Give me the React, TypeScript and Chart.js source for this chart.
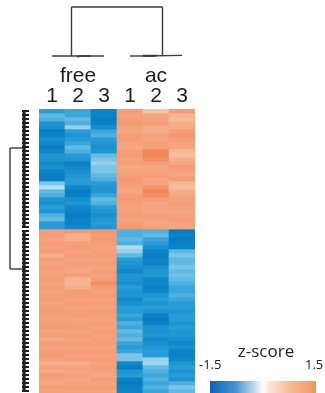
import React, { useEffect, useRef } from "react";
import { Chart, registerables } from "chart.js";

Chart.register(...registerables);

// column labels
const groupLabels = ["free", "ac"];
const sampleLabels = ["1", "2", "3", "1", "2", "3"];
const legendTitle = "z-score";
const legendMin = -1.5;
const legendMax = 1.5;

// z-scores per column; rows 0-29 = upper gene cluster, rows 30-70 = lower cluster
const free1 = [
  -0.9, -0.6, -0.7, -1.0, -1.1, -1.4, -1.3, -1.1, -1.2, -1.4, -1.2, -1.0, -1.0, -1.2, -1.1, -1.3, -1.4, -1.35, -0.5, -0.25, -0.6, -0.7, -1.0, -1.1, -0.9, -1.0, -0.7, -0.6, -0.9, -0.9,
  0.9, 0.9, 0.85, 0.9, 0.85, 0.9, 0.7, 0.9, 0.85, 0.9, 0.85, 0.9, 0.9, 0.85, 0.9, 0.85, 0.9, 0.9, 0.85, 0.9, 0.95, 0.9, 0.85, 0.9, 0.95, 0.85, 0.9, 0.75, 0.9, 0.85, 0.9, 0.95, 0.85, 0.7, 0.85, 0.75, 0.9, 0.85, 0.8, 0.9, 0.85,
];
const free2 = [
  -0.8, -0.8, -0.6, -0.7, -0.4, -0.9, -1.0, -0.9, -0.8, -0.6, -0.7, -0.9, -1.0, -1.3, -1.2, -1.1, -1.0, -0.9, -0.9, -1.2, -1.4, -1.3, -1.1, -1.0, -1.2, -1.3, -1.4, -1.3, -1.3, -1.2,
  0.95, 0.7, 0.7, 0.85, 0.9, 0.85, 0.9, 0.85, 0.9, 0.85, 0.8, 0.9, 0.65, 0.65, 0.7, 0.9, 0.9, 0.85, 0.9, 0.85, 0.9, 0.9, 0.85, 0.9, 0.9, 0.85, 0.9, 0.85, 0.9, 0.85, 0.9, 0.85, 0.9, 0.75, 0.85, 0.8, 0.85, 0.8, 0.85, 0.9, 0.85,
];
const free3 = [
  -1.3, -1.3, -1.4, -1.35, -1.1, -0.8, -0.7, -0.9, -1.0, -1.1, -1.0, -0.6, -0.5, -0.4, -0.5, -0.5, -0.6, -0.7, -0.9, -1.0, -1.0, -0.8, -0.6, -0.7, -0.9, -1.0, -1.1, -1.0, -0.9, -1.0,
  1.0, 0.9, 0.95, 0.9, 0.85, 0.9, 0.9, 0.85, 0.9, 0.85, 0.9, 0.85, 0.9, 1.1, 0.9, 0.85, 0.9, 0.85, 0.9, 0.85, 0.95, 0.9, 0.85, 0.9, 0.85, 0.9, 0.85, 0.9, 0.9, 0.85, 0.9, 0.85, 0.9, 0.85, 0.9, 0.85, 0.8, 0.9, 0.85, 0.9, 0.85,
];
const ac1 = [
  0.9, 0.85, 0.9, 0.95, 0.85, 0.8, 0.9, 0.9, 0.85, 0.8, 0.9, 0.9, 0.85, 0.9, 0.8, 0.85, 0.9, 0.95, 0.9, 0.85, 0.8, 0.9, 0.95, 0.9, 0.85, 0.9, 0.9, 0.85, 0.9, 0.95,
  -0.7, -0.7, -0.6, -0.7, -0.3, -0.4, -0.6, -0.9, -1.0, -1.1, -1.2, -1.0, -1.0, -1.1, -0.9, -1.0, -1.0, -1.2, -1.1, -0.9, -0.9, -0.8, -0.9, -0.7, -0.8, -0.6, -0.7, -0.6, -0.8, -0.9, -0.8, -0.5, -0.5, -1.2, -1.4, -1.0, -0.9, -1.3, -1.4, -1.35, -1.3,
];
const ac2 = [
  0.5, 0.8, 0.85, 0.9, 0.75, 0.7, 0.85, 0.8, 0.9, 0.85, 1.2, 1.25, 1.1, 0.9, 0.8, 0.85, 0.9, 0.8, 0.85, 1.0, 1.2, 1.1, 0.9, 0.8, 0.85, 0.8, 0.9, 0.85, 0.8, 0.85,
  -0.7, -0.6, -0.8, -0.9, -1.1, -1.3, -1.4, -1.3, -1.3, -1.1, -1.0, -1.0, -1.2, -1.2, -1.3, -1.2, -1.0, -0.9, -1.0, -0.9, -1.0, -1.3, -1.4, -1.3, -1.0, -1.1, -1.0, -1.2, -1.1, -1.0, -0.9, -0.9, -0.4, -0.35, -0.6, -0.7, -0.8, -0.7, -0.8, -0.7, -0.8,
];
const ac3 = [
  0.9, 0.65, 0.6, 0.7, 0.75, 0.9, 1.0, 0.9, 0.85, 0.8, 0.6, 0.55, 0.7, 0.8, 0.9, 0.85, 0.8, 0.9, 0.6, 0.55, 0.7, 0.8, 0.85, 0.9, 0.85, 0.8, 0.85, 0.9, 0.85, 0.8,
  -1.4, -1.3, -1.4, -1.35, -1.3, -0.6, -0.5, -0.6, -0.6, -0.5, -0.6, -0.55, -0.6, -0.7, -0.8, -0.8, -0.7, -0.8, -0.9, -0.9, -1.0, -0.9, -0.9, -1.0, -0.9, -1.0, -1.0, -1.1, -1.2, -1.1, -1.3, -1.3, -1.2, -1.0, -0.9, -1.0, -0.9, -1.0, -0.7, -0.5, -0.6,
];

// row dendrogram: cluster sizes and join rows (in row units)
const rowClusterSizes = [30, 41];
const rowJoinRows = [9.75, 40];

const columns = [free1, free2, free3, ac1, ac2, ac3];
const nRows = free1.length;

const colorStops: [number, number[]][] = [
  [-1.5, [4, 120, 192]],
  [-1.2, [16, 136, 202]],
  [-0.9, [40, 156, 214]],
  [-0.6, [98, 186, 227]],
  [-0.3, [176, 219, 238]],
  [0, [255, 255, 255]],
  [0.3, [250, 218, 196]],
  [0.6, [247, 184, 150]],
  [0.9, [244, 158, 120]],
  [1.2, [241, 136, 92]],
  [1.5, [238, 122, 72]],
];

const legendStops: [number, number[]][] = [
  [0, [10, 100, 178]],
  [0.25, [70, 150, 210]],
  [0.45, [215, 232, 242]],
  [0.5, [255, 255, 255]],
  [0.55, [252, 232, 218]],
  [0.75, [247, 190, 150]],
  [1, [242, 148, 92]],
];

function zColor(z: number): string {
  const v = Math.max(-1.5, Math.min(1.5, z));
  for (let i = 0; i < colorStops.length - 1; i++) {
    const [z0, c0] = colorStops[i];
    const [z1, c1] = colorStops[i + 1];
    if (v >= z0 && v <= z1) {
      const t = (v - z0) / (z1 - z0);
      const c = c0.map((a, k) => Math.round(a + (c1[k] - a) * t));
      return `rgb(${c[0]},${c[1]},${c[2]})`;
    }
  }
  return "rgb(255,255,255)";
}

const overlay = {
  id: "overlay",
  afterDraw(chart: any) {
    const ctx = chart.ctx as CanvasRenderingContext2D;
    const xs = chart.scales.x;
    const ys = chart.scales.y;
    const cx = (i: number) => xs.getPixelForValue(i);
    const top = chart.chartArea.top;
    ctx.save();
    // column labels
    ctx.fillStyle = "#1c1c1c";
    ctx.textAlign = "center";
    ctx.textBaseline = "alphabetic";
    ctx.font = '21px "Liberation Sans", Arial, sans-serif';
    ctx.fillText(groupLabels[0], cx(1), top - 27);
    ctx.fillText(groupLabels[1], cx(4), top - 27);
    sampleLabels.forEach((s, i) => ctx.fillText(s, cx(i), top - 7));

    // column dendrogram
    ctx.strokeStyle = "#3a3a3a";
    ctx.lineWidth = 1.4;
    const leafY = top - 53;
    const rootY = top - 102;
    const seg = (x1: number, y1: number, x2: number, y2: number) => {
      ctx.beginPath();
      ctx.moveTo(x1, y1);
      ctx.lineTo(x2, y2);
      ctx.stroke();
    };
    // free: (2,3) then 1
    const f23 = (cx(1) + cx(2)) / 2;
    seg(cx(1), leafY, cx(2), leafY);
    seg(cx(1), leafY + 1.5, cx(1), leafY);
    seg(cx(0), leafY, f23, leafY);
    const fRoot = (cx(0) + f23) / 2;
    // ac: (1,2) then 3
    const a12 = (cx(3) + cx(4)) / 2;
    seg(cx(3), leafY, cx(4), leafY);
    seg(a12, leafY, cx(5), leafY - 0.6);
    seg(cx(3) + 13, leafY - 0.5, cx(4) + 2, leafY - 0.5);
    const aRoot = (a12 + cx(5)) / 2;
    seg(fRoot, leafY, fRoot, rootY);
    seg(fRoot, rootY, aRoot, rootY);
    seg(aRoot, rootY, aRoot, leafY);

    // row dendrogram
    ctx.strokeStyle = "#1e1e1e";
    const combX = 24;
    let start = 0;
    rowClusterSizes.forEach((n) => {
      ctx.lineWidth = 3;
      seg(combX, ys.getPixelForValue(start) + 1, combX, ys.getPixelForValue(start + n) - 1);
      start += n;
    });
    ctx.lineWidth = 2;
    for (let r = 0; r < nRows; r++) {
      const y = Math.round(ys.getPixelForValue(r + 0.5));
      seg(combX - 2, y, combX + 5, y);
    }
    ctx.lineWidth = 1.3;
    ctx.strokeStyle = "#2a2a2a";
    const yA = ys.getPixelForValue(rowJoinRows[0]);
    const yB = ys.getPixelForValue(rowJoinRows[1]);
    const brX = 10;
    seg(combX, yA, brX, yA);
    seg(brX, yA, brX, yB);
    seg(brX, yB, combX, yB);

    // colour legend
    const lx0 = 210;
    const lx1 = 316;
    const ly0 = 381;
    const ly1 = 393;
    const grad = ctx.createLinearGradient(lx0, 0, lx1, 0);
    legendStops.forEach(([p, c]) => grad.addColorStop(p, `rgb(${c[0]},${c[1]},${c[2]})`));
    ctx.fillStyle = grad;
    ctx.fillRect(lx0, ly0, lx1 - lx0, ly1 - ly0);
    ctx.fillStyle = "#222";
    ctx.font = '17px "Open Sans", "Noto Sans", sans-serif';
    ctx.textAlign = "center";
    ctx.fillText(legendTitle, 266, 357);
    ctx.font = '13px "Open Sans", "Noto Sans", sans-serif';
    ctx.textAlign = "left";
    ctx.fillText(legendMin.toFixed(1), 199, 369);
    ctx.fillText(legendMax.toFixed(1), 305, 369);
    ctx.restore();
  },
};

export default function App() {
  const ref = useRef<HTMLCanvasElement | null>(null);
  useEffect(() => {
    if (!ref.current) return;
    const datasets = Array.from({ length: nRows }, (_, r) => ({
      label: `row ${r + 1}`,
      data: columns.map(() => 1),
      backgroundColor: columns.map((col) => zColor(col[r])),
      borderWidth: 0,
      barPercentage: 1,
      categoryPercentage: 1,
    }));
    const chart = new Chart(ref.current, {
      type: "bar",
      data: { labels: sampleLabels, datasets },
      options: {
        animation: false,
        responsive: false,
        devicePixelRatio: 1,
        layout: { padding: { left: 39, right: 130, top: 109, bottom: 0 } },
        plugins: { legend: { display: false }, tooltip: { enabled: false } },
        scales: {
          x: { stacked: true, display: false },
          y: { stacked: true, display: false, min: 0, max: nRows, reverse: true },
        },
      },
      plugins: [overlay],
    });
    return () => chart.destroy();
  }, []);
  return (
    <div style={{ position: "absolute", left: 0, top: 0, width: 325, height: 393, background: "#fff" }}>
      <canvas ref={ref} width={325} height={393} />
    </div>
  );
}
